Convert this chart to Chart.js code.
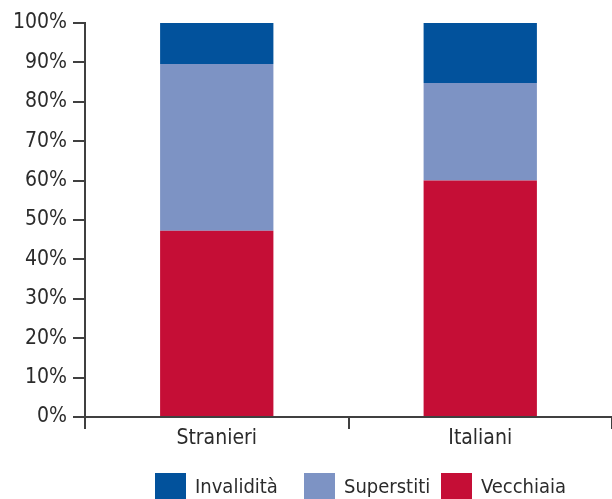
<!DOCTYPE html>
<html>
<head>
<meta charset="utf-8">
<script src="https://cdn.jsdelivr.net/npm/chart.js@4/dist/chart.umd.min.js"></script>
<style>
  html, body { margin: 0; padding: 0; background: #fff; }
  #wrap { position: relative; width: 612px; height: 499px; }
  #legend {
    position: absolute; left: 155px; top: 473px;
    display: grid; grid-template-columns: 149px 137px auto;
    font-family: 'DejaVu Sans Condensed', sans-serif; font-size: 20px; color: #2b2b2b;
  }
  #legend .item { display: flex; align-items: center; height: 26px; }
  #legend .box { width: 31px; height: 26px; margin-right: 9px; flex: none; }
</style>
</head>
<body>
<div id="wrap"><canvas id="chart"></canvas><div id="legend"></div></div>
<script>
const categories = ['Stranieri', 'Italiani'];
const vecchiaia = [47.3, 60.0];
const superstiti = [42.3, 24.8];
const invalidita = [10.4, 15.2];
const yTicks = [0, 10, 20, 30, 40, 50, 60, 70, 80, 90, 100];

const FONT = "'DejaVu Sans Condensed', sans-serif";
const ink = '#2b2b2b';
const axisColor = '#404040';

let ctx = document.getElementById('chart').getContext('2d');
let chart = new Chart(ctx, {
  type: 'bar',
  data: {
    labels: categories,
    datasets: [
      { label: 'Vecchiaia', data: vecchiaia, backgroundColor: '#c50e36' },
      { label: 'Superstiti', data: superstiti, backgroundColor: '#7d93c4' },
      { label: 'Invalidità', data: invalidita, backgroundColor: '#02529c' },
    ],
  },
  options: {
    responsive: true,
    maintainAspectRatio: false,
    animation: false,
    datasets: { bar: { barPercentage: 0.43, categoryPercentage: 1 } },
    layout: { padding: { top: 23, left: 0, right: 0, bottom: 0 } },
    scales: {
      x: {
        stacked: true,
        offset: true,
        border: { display: true, color: axisColor, width: 2 },
        grid: { offset: true, drawOnChartArea: false, drawTicks: true, tickLength: 12, color: axisColor, lineWidth: 2 },
        ticks: { color: ink, font: { family: FONT, size: 21 }, padding: -3 },
        afterFit: (s) => { s.height = 82; },
      },
      y: {
        stacked: true,
        min: 0,
        max: 100,
        afterBuildTicks: (s) => { s.ticks = yTicks.map(v => ({ value: v })); },
        border: { display: true, color: axisColor, width: 2 },
        grid: { drawOnChartArea: false, drawTicks: true, tickLength: 12, color: axisColor, lineWidth: 2 },
        ticks: { color: ink, font: { family: FONT, size: 21 }, padding: 6, callback: (v) => v + '%' },
        afterFit: (s) => { s.width = 85; },
      },
    },
    plugins: {
      tooltip: { enabled: false },
      legend: { display: false },
    },
  },
});

// legend in the reference order (top of the stack first)
const legendEl = document.getElementById('legend');
chart.data.datasets.slice().reverse().forEach((ds) => {
  const item = document.createElement('div');
  item.className = 'item';
  item.innerHTML = '<span class="box" style="background:' + ds.backgroundColor + '"></span><span>' + ds.label + '</span>';
  legendEl.appendChild(item);
});
</script>
</body>
</html>
